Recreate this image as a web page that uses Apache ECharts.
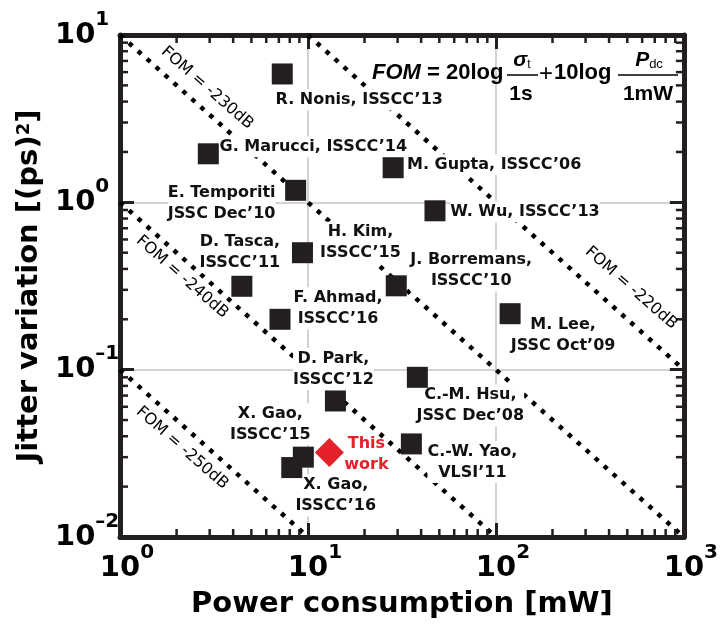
<!DOCTYPE html>
<html>
<head>
<meta charset="utf-8">
<title>Jitter variation vs power consumption</title>
<script src="https://cdn.jsdelivr.net/npm/echarts@6/dist/echarts.min.js"></script>
<style>
  html, body { margin: 0; padding: 0; background: #fff; }
  #chart { width: 721px; height: 627px; }
</style>
</head>
<body>
<div id="chart"></div>
<script>
// published PLLs
var refNames = [
  "R. Nonis, ISSCC’13", "G. Marucci, ISSCC’14", "M. Gupta, ISSCC’06",
  "E. Temporiti\nJSSC Dec’10", "W. Wu, ISSCC’13", "H. Kim,\nISSCC’15",
  "D. Tasca,\nISSCC’11", "J. Borremans,\nISSCC’10", "F. Ahmad,\nISSCC’16",
  "M. Lee,\nJSSC Oct’09", "D. Park,\nISSCC’12", "C.-M. Hsu,\nJSSC Dec’08",
  "C.-W. Yao,\nVLSI’11", "X. Gao,\nISSCC’15", "X. Gao,\nISSCC’16"
];
var refPower = [7.3, 2.95, 28.4, 8.6, 47.4, 9.35, 4.45, 29.5, 7.1, 119, 14.0, 38.2, 35.5, 9.45, 8.2];
var refJitter = [5.85, 1.95, 1.61, 1.18, 0.89, 0.50, 0.315, 0.317, 0.20, 0.216, 0.065, 0.090, 0.036, 0.030, 0.026];

// this work
var workName = "This\nwork";
var workPower = [13.0];
var workJitter = [0.032];

// FOM reference lines (end points)
var fomNames = ["FOM = -220dB", "FOM = -230dB", "FOM = -240dB", "FOM = -250dB"];
var fomStart = [[10, 10], [1, 10], [1, 1], [1, 0.1]];
var fomEnd = [[1000, 0.1], [1000, 0.01], [100, 0.01], [10, 0.01]];

// axis decades + minor tick steps
var xDecades = [1, 10, 100];
var yDecades = [0.01, 0.1, 1];
var minorSteps = [2, 3, 4, 5, 6, 7, 8, 9];

// layout only: label offsets (px) from each marker, FOM label centres (px)
var refLabelOffset = [[77, 26], [105, -7], [101, -3], [-74, 13], [90, 1], [58, -10], [-2, -34],
  [75, -15], [58, -11], [53, 22], [-2, -32], [53, 28], [61, 18], [-33, -33], [44, 28]];
var workLabelOffset = [37, 2];
var fomLabelPos = [[631, 288], [207, 88], [182, 277], [182, 448]];

var FONT = "DejaVu Sans";
var INK = "#231f20";

function minorValues(decs) {
  var out = [];
  decs.forEach(function (d) {
    minorSteps.forEach(function (s) { out.push(d * s); });
  });
  return out;
}

var powRich = {
  b: { fontFamily: FONT, fontWeight: "bold", fontSize: 29, color: "#000", padding: [11, 0, 11, 0], verticalAlign: "middle" },
  s: { fontFamily: FONT, fontWeight: "bold", fontSize: 20, color: "#000", verticalAlign: "top" },
  sp: { width: 14 }
};
function expText(v) {
  var e = Math.round(Math.log10(v));
  return e < 0 ? "–" + (-e) : "" + e;
}

var chart = echarts.init(document.getElementById("chart"));

var series = [];
fomStart.forEach(function (p, i) {
  series.push({
    type: "line",
    z: 1,
    silent: true,
    showSymbol: false,
    symbol: "none",
    data: [p, fomEnd[i]],
    lineStyle: { color: "#000", width: 4.5, type: [4.5, 7.5], cap: "butt", opacity: 1 }
  });
});

// labels first (white box hides lines/grid), markers drawn over them
series.push({
  type: "scatter",
  z: 3,
  silent: true,
  symbolSize: 1,
  itemStyle: { color: "rgba(0,0,0,0)" },
  label: {
    show: true,
    position: "inside",
    formatter: "{b}",
    fontFamily: FONT,
    fontWeight: "bold",
    fontSize: 16,
    lineHeight: 21,
    color: "#111",
    opacity: 1,
    align: "center",
    verticalAlign: "middle",
    backgroundColor: "#fff"
  },
  data: refPower.map(function (p, i) {
    return { name: refNames[i], value: [p, refJitter[i]], label: { offset: refLabelOffset[i] } };
  })
});
series.push({
  type: "scatter",
  z: 4,
  symbol: "rect",
  symbolSize: 21,
  itemStyle: { color: INK, opacity: 1 },
  data: refPower.map(function (p, i) { return [p, refJitter[i]]; })
});

series.push({
  type: "scatter",
  z: 5,
  symbol: "diamond",
  symbolSize: 29,
  itemStyle: { color: "#e4202a", opacity: 1 },
  label: {
    show: true,
    position: "inside",
    formatter: "{b}",
    offset: workLabelOffset,
    fontFamily: FONT,
    fontWeight: "bold",
    fontSize: 16,
    lineHeight: 21,
    color: "#e4202a",
    opacity: 1,
    align: "center",
    verticalAlign: "middle"
  },
  data: workPower.map(function (p, i) {
    return { name: workName, value: [p, workJitter[i]] };
  })
});

// minor ticks at 2..9 of each decade, on all four sides
series.push({
  type: "custom",
  silent: true,
  z: 5,
  data: minorValues(xDecades).map(function (v) { return [v, 1]; }),
  renderItem: function (params, api) {
    var cs = params.coordSys;
    var px = api.coord([api.value(0), 1])[0];
    var st = { stroke: INK, lineWidth: 2.5 };
    return {
      type: "group",
      children: [
        { type: "line", shape: { x1: px, y1: cs.y + cs.height, x2: px, y2: cs.y + cs.height - 8 }, style: st },
        { type: "line", shape: { x1: px, y1: cs.y, x2: px, y2: cs.y + 8 }, style: st }
      ]
    };
  }
});
series.push({
  type: "custom",
  silent: true,
  z: 5,
  data: minorValues(yDecades).map(function (v) { return [1, v]; }),
  renderItem: function (params, api) {
    var cs = params.coordSys;
    var py = api.coord([1, api.value(1)])[1];
    var st = { stroke: INK, lineWidth: 2.5 };
    return {
      type: "group",
      children: [
        { type: "line", shape: { x1: cs.x, y1: py, x2: cs.x + 8, y2: py }, style: st },
        { type: "line", shape: { x1: cs.x + cs.width, y1: py, x2: cs.x + cs.width - 8, y2: py }, style: st }
      ]
    };
  }
});

var boxLine = { show: true, lineStyle: { color: INK, width: 5 } };
var majorTick = { show: true, inside: true, length: 14, lineStyle: { color: INK, width: 3 } };
var gridLine = { show: true, lineStyle: { color: "#c4c4c4", width: 1.5 } };

var graphic = fomNames.map(function (t, i) {
  return {
    type: "text",
    x: fomLabelPos[i][0],
    y: fomLabelPos[i][1],
    rotation: -0.719,
    z: 10,
    style: { text: t, fontFamily: FONT, fontSize: 16, fill: "#000", align: "center", verticalAlign: "middle" }
  };
});

// FOM = 20log(sigma_t / 1s) + 10log(Pdc / 1mW)
var FF = "Liberation Sans";
graphic = graphic.concat([
  { type: "text", x: 372, y: 73, z: 10, style: { text: "FOM", fontFamily: FF, fontStyle: "italic", fontWeight: "bold", fontSize: 22, fill: "#000", verticalAlign: "middle" } },
  { type: "text", x: 427, y: 73, z: 10, style: { text: "= 20log", fontFamily: FF, fontWeight: "bold", fontSize: 22, fill: "#000", verticalAlign: "middle" } },
  { type: "text", x: 522, y: 60, z: 10, style: {
      text: "{a|σ}{b|t}", align: "center", verticalAlign: "middle",
      rich: {
        a: { fontFamily: FF, fontStyle: "italic", fontWeight: "bold", fontSize: 21, fill: "#000", verticalAlign: "bottom" },
        b: { fontFamily: FF, fontSize: 12, fill: "#000", verticalAlign: "bottom" }
      } } },
  { type: "line", z: 10, shape: { x1: 507, y1: 75, x2: 538, y2: 75 }, style: { stroke: "#000", lineWidth: 1.5 } },
  { type: "text", x: 521, y: 94, z: 10, style: { text: "1s", fontFamily: FF, fontWeight: "bold", fontSize: 21, fill: "#000", align: "center", verticalAlign: "middle" } },
  { type: "text", x: 546, y: 74, z: 10, style: { text: "+", fontFamily: FF, fontSize: 24, fill: "#000", align: "center", verticalAlign: "middle" } },
  { type: "text", x: 554, y: 73, z: 10, style: { text: "10log", fontFamily: FF, fontWeight: "bold", fontSize: 22, fill: "#000", verticalAlign: "middle" } },
  { type: "text", x: 649, y: 60, z: 10, style: {
      text: "{a|P}{b|dc}", align: "center", verticalAlign: "middle",
      rich: {
        a: { fontFamily: FF, fontStyle: "italic", fontWeight: "bold", fontSize: 21, fill: "#000", verticalAlign: "bottom" },
        b: { fontFamily: FF, fontSize: 13, fill: "#000", verticalAlign: "bottom" }
      } } },
  { type: "line", z: 10, shape: { x1: 618, y1: 75, x2: 678, y2: 75 }, style: { stroke: "#000", lineWidth: 1.5 } },
  { type: "text", x: 648, y: 94, z: 10, style: { text: "1mW", fontFamily: FF, fontWeight: "bold", fontSize: 21, fill: "#000", align: "center", verticalAlign: "middle" } }
]);

chart.setOption({
  animation: false,
  backgroundColor: "#fff",
  grid: { left: 120, right: 28, top: 35, bottom: 90 },
  xAxis: [
    {
      type: "log",
      logBase: 10,
      min: 1,
      max: 1000,
      position: "bottom",
      axisLine: boxLine,
      axisTick: majorTick,
      splitLine: gridLine,
      axisLabel: {
        margin: 6,
        formatter: function (v) { return "{sp|}{b|10}{s|" + expText(v) + "}"; },
        rich: powRich
      },
      name: "Power consumption [mW]",
      nameLocation: "middle",
      nameGap: 53,
      nameTextStyle: { fontFamily: FONT, fontWeight: "bold", fontSize: 29, color: "#000" }
    },
    {
      type: "log",
      logBase: 10,
      min: 1,
      max: 1000,
      position: "top",
      axisLine: boxLine,
      axisTick: majorTick,
      axisLabel: { show: false },
      splitLine: { show: false }
    }
  ],
  yAxis: [
    {
      type: "log",
      logBase: 10,
      min: 0.01,
      max: 10,
      position: "left",
      axisLine: boxLine,
      axisTick: majorTick,
      splitLine: gridLine,
      axisLabel: {
        margin: 65,
        align: "left",
        formatter: function (v) { return "{b|10}{s|" + expText(v) + "}"; },
        rich: powRich
      },
      name: "{t|Jitter variation [(ps)}{s|2}{t|]}",
      nameLocation: "middle",
      nameRotate: 90,
      nameGap: 72,
      nameTextStyle: {
        rich: {
          t: { fontFamily: FONT, fontWeight: "bold", fontSize: 29, color: "#000", verticalAlign: "bottom" },
          s: { fontFamily: FONT, fontWeight: "bold", fontSize: 18, color: "#000", verticalAlign: "top" }
        }
      }
    },
    {
      type: "log",
      logBase: 10,
      min: 0.01,
      max: 10,
      position: "right",
      axisLine: boxLine,
      axisTick: majorTick,
      axisLabel: { show: false },
      splitLine: { show: false }
    }
  ],
  series: series,
  graphic: graphic
});
</script>
</body>
</html>
